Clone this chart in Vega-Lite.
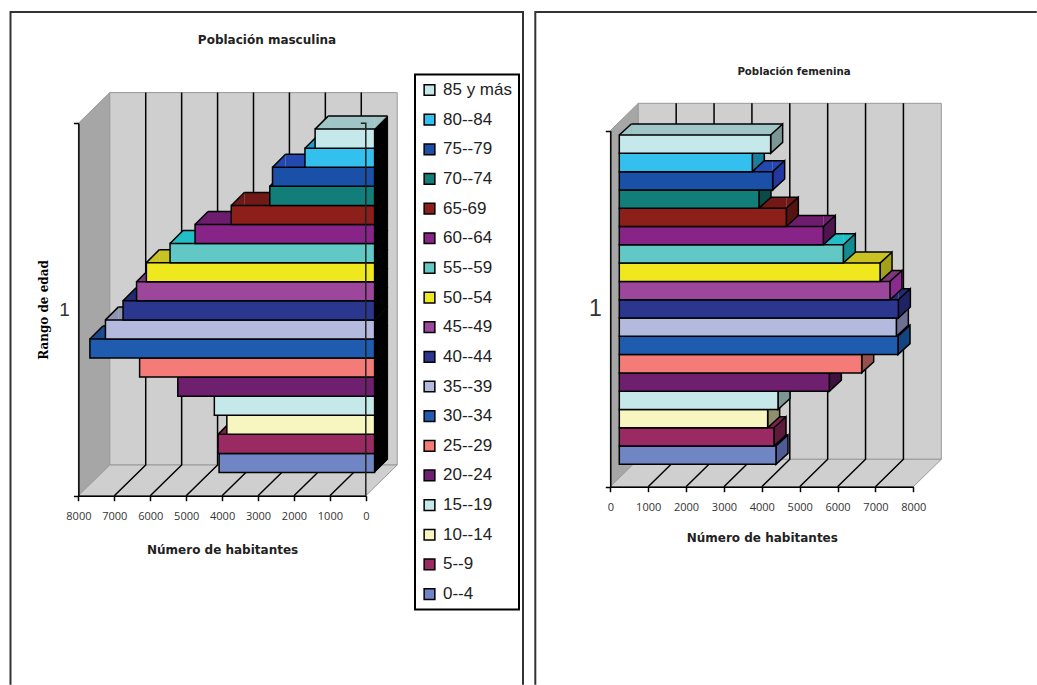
{"$schema":"https://vega.github.io/schema/vega-lite/v6.json","padding":{"left":6,"top":1,"right":0,"bottom":0},"background":"white","spacing":12,"bounds":"flush","config":{"view":{"stroke":null},"legend":{"strokeWidth":2}},
"datasets":{
"hombres":[{"grupo":"0--4","valor":4329},{"grupo":"5--9","valor":4358},{"grupo":"10--14","valor":4113},{"grupo":"15--19","valor":4461},{"grupo":"20--24","valor":5478},{"grupo":"25--29","valor":6541},{"grupo":"30--34","valor":7925},{"grupo":"35--39","valor":7492},{"grupo":"40--44","valor":7002},{"grupo":"45--49","valor":6626},{"grupo":"50--54","valor":6353},{"grupo":"55--59","valor":5694},{"grupo":"60--64","valor":4998},{"grupo":"65-69","valor":3990},{"grupo":"70--74","valor":2918},{"grupo":"75--79","valor":2842},{"grupo":"80--84","valor":1939},{"grupo":"85 y más","valor":1656}],
"mujeres":[{"grupo":"0--4","valor":4137},{"grupo":"5--9","valor":4085},{"grupo":"10--14","valor":3917},{"grupo":"15--19","valor":4190},{"grupo":"20--24","valor":5546},{"grupo":"25--29","valor":6400},{"grupo":"30--34","valor":7359},{"grupo":"35--39","valor":7315},{"grupo":"40--44","valor":7368},{"grupo":"45--49","valor":7148},{"grupo":"50--54","valor":6884},{"grupo":"55--59","valor":5915},{"grupo":"60--64","valor":5387},{"grupo":"65-69","valor":4410},{"grupo":"70--74","valor":3688},{"grupo":"75--79","valor":4049},{"grupo":"80--84","valor":3512},{"grupo":"85 y más","valor":3996}],
"esquina8000":[{"marca":8000,"rango":"1"}],"esquina0":[{"marca":0,"rango":"1"}],
"divisiones":[{"marca":1000,"rango":"1"},{"marca":2000,"rango":"1"},{"marca":3000,"rango":"1"},{"marca":4000,"rango":"1"},{"marca":5000,"rango":"1"},{"marca":6000,"rango":"1"},{"marca":7000,"rango":"1"}]},
"hconcat":[
{"width":512,"height":673,"title":{"text":"Población masculina","font":"DejaVu Sans","fontSize":12,"fontWeight":"bold","color":"#222","anchor":"middle","frame":"group","offset":-44},
"resolve":{"scale":{"x":"independent","y":"independent","fill":"independent","stroke":"independent"},"axis":{"x":"independent","y":"independent"},"legend":{"fill":"independent"}},
"layer":[
{"data":{"name":"esquina8000"},"mark":{"type":"point","filled":true,"opacity":1,"size":4,"fill":"#A6A6A6","stroke":"#999","strokeWidth":1,"shape":"M0 0L31.4 -30.7L31.4 -403.1L0 -372.4Z"},
"encoding":{"x":{"field":"marca","type":"quantitative","scale":{"domain":[8000,0],"range":[67.4,354.8]},"axis":{"orient":"bottom","offset":-189.3,"values":[0,1000,2000,3000,4000,5000,6000,7000,8000],"format":"d","labelFont":"Open Sans","labelFontSize":11,"labelColor":"#333","labelPadding":10,"tickSize":5,"tickWidth":1.5,"tickColor":"black","domainColor":"black","domainWidth":1.5,"grid":false,"labelOverlap":false,"labelFlush":false,"zindex":1,"title":"Número de habitantes","titleFont":"DejaVu Sans","titleFontSize":12,"titleFontWeight":"bold","titleColor":"#222","titlePadding":23}},
"y":{"field":"rango","type":"nominal","bandPosition":1,"scale":{"type":"band","domain":["1"],"range":[111.3,483.7],"padding":0},"axis":{"orient":"left","offset":-67.4,"tickBand":"extent","tickSize":5,"tickWidth":1.5,"tickColor":"black","domainColor":"black","domainWidth":1.5,"labelFont":"Liberation Sans","labelFontSize":19,"labelColor":"#333","labelPadding":4,"labelAngle":0,"grid":false,"zindex":1,"title":"Rango de edad","titleFont":"DejaVu Serif","titleFontSize":12,"titleFontWeight":"bold","titleColor":"black","titlePadding":8}}}},
{"data":{"name":"esquina8000"},"encoding":{"x":{"field":"marca","type":"quantitative","scale":{"domain":[8000,0],"range":[67.4,354.8]},"axis":null},"y":{"field":"rango","type":"nominal","bandPosition":1,"scale":{"type":"band","domain":["1"],"range":[111.3,483.7],"padding":0},"axis":null}},
"layer":[
{"mark":{"type":"point","filled":true,"opacity":1,"size":4,"fill":"#CFCFCF","stroke":"#999","strokeWidth":1,"shape":"M31.4 -30.7L318.8 -30.7L318.8 -403.1L31.4 -403.1Z"}},
{"mark":{"type":"point","filled":true,"opacity":1,"size":4,"fill":"#CFCFCF","stroke":"#999","strokeWidth":1,"shape":"M0 0L31.4 -30.7L318.8 -30.7L287.4 0Z"}},
{"data":{"name":"divisiones"},"mark":{"type":"point","filled":false,"opacity":1,"size":4,"stroke":"black","strokeWidth":1.5,"shape":"M0 0L31.4 -30.7L31.4 -403.1"}},
{"mark":{"type":"point","filled":false,"opacity":1,"size":4,"stroke":"#333","strokeWidth":2,"shape":"M-67.9 189L-67.9 -483.7L444.6 -483.7L444.6 189"}}
]},
{"data":{"name":"hombres"},"encoding":{"x":{"field":"valor","type":"quantitative","scale":{"domain":[8000,0],"range":[76.2,363.6]},"axis":null},"y":{"field":"grupo","type":"nominal","bandPosition":0,"sort":null,"scale":{"type":"band","domain":["85 y más","80--84","75--79","70--74","65-69","60--64","55--59","50--54","45--49","40--44","35--39","30--34","25--29","20--24","15--19","10--14","5--9","0--4"],"range":[102.6,475],"paddingInner":0,"paddingOuter":0.76},"axis":null}},
"resolve":{"scale":{"fill":"independent","stroke":"independent"},"legend":{"fill":"independent"}},
"layer":[
{"mark":{"type":"rule","strokeWidth":13,"xOffset":13,"x2Offset":0,"yOffset":-6.5},"encoding":{"x2":{"datum":0},"stroke":{"field":"grupo","type":"nominal","legend":null,"scale":{"domain":["85 y más","80--84","75--79","70--74","65-69","60--64","55--59","50--54","45--49","40--44","35--39","30--34","25--29","20--24","15--19","10--14","5--9","0--4"],"range":["#9FC5C6","#1E9ECB","#2348B0","#0E6562","#701916","#6D1D6D","#20BEC6","#C8C222","#7D387D","#222B72","#8F95B1","#194A8D","#C36260","#581958","#9FC5C6","#C6C49A","#7B224E","#5A6B9E"]}}}},
{"mark":{"type":"point","filled":true,"opacity":1,"size":4,"strokeWidth":0,"shape":"M0 0L13 -13L13 0Z"},"encoding":{"fill":{"field":"grupo","type":"nominal","legend":null,"scale":{"domain":["85 y más","80--84","75--79","70--74","65-69","60--64","55--59","50--54","45--49","40--44","35--39","30--34","25--29","20--24","15--19","10--14","5--9","0--4"],"range":["#9FC5C6","#1E9ECB","#2348B0","#0E6562","#701916","#6D1D6D","#20BEC6","#C8C222","#7D387D","#222B72","#8F95B1","#194A8D","#C36260","#581958","#9FC5C6","#C6C49A","#7B224E","#5A6B9E"]}}}},
{"mark":{"type":"point","filled":true,"opacity":1,"size":4,"strokeWidth":0,"shape":"M0 0L13 -13L0 -13Z"},"encoding":{"x":{"datum":0,"axis":null},"fill":{"field":"grupo","type":"nominal","legend":null,"scale":{"domain":["85 y más","80--84","75--79","70--74","65-69","60--64","55--59","50--54","45--49","40--44","35--39","30--34","25--29","20--24","15--19","10--14","5--9","0--4"],"range":["#9FC5C6","#1E9ECB","#2348B0","#0E6562","#701916","#6D1D6D","#20BEC6","#C8C222","#7D387D","#222B72","#8F95B1","#194A8D","#C36260","#581958","#9FC5C6","#C6C49A","#7B224E","#5A6B9E"]}}}},
{"mark":{"type":"point","filled":false,"opacity":1,"size":4,"stroke":"black","strokeWidth":1.5,"shape":"M0 0L13 -13"}},
{"mark":{"type":"rule","stroke":"black","strokeWidth":1.5,"xOffset":13,"x2Offset":13,"yOffset":-13},"encoding":{"x2":{"datum":0}}},
{"mark":{"type":"point","filled":true,"opacity":1,"size":4,"fill":"black","stroke":"black","strokeWidth":1,"shape":"M0 0L13 -13L13 6.07L0 19.07Z"},"encoding":{"x":{"datum":0,"axis":null}}},
{"mark":{"type":"bar","stroke":"black","strokeWidth":1.5},"encoding":{"x2":{"datum":0},"y":{"field":"grupo","type":"nominal","sort":null,"scale":{"type":"band","domain":["85 y más","80--84","75--79","70--74","65-69","60--64","55--59","50--54","45--49","40--44","35--39","30--34","25--29","20--24","15--19","10--14","5--9","0--4"],"range":[102.6,475],"paddingInner":0,"paddingOuter":0.76},"axis":null},"fill":{"field":"grupo","type":"nominal","scale":{"domain":["85 y más","80--84","75--79","70--74","65-69","60--64","55--59","50--54","45--49","40--44","35--39","30--34","25--29","20--24","15--19","10--14","5--9","0--4"],"range":["#C5E8EA","#33C0EE","#1A50A8","#117E7A","#8C1F1A","#882488","#62C8C6","#EFE81F","#9C469C","#2B368F","#B3BADD","#1F5CB0","#F47B78","#6E1F6E","#C5E8EA","#F7F5C0","#9A2A62","#6F85C4"]},"legend":{"orient":"none","legendX":404,"legendY":62.5,"title":null,"strokeColor":"black","fillColor":"white","padding":7,"symbolType":"square","symbolSize":115,"symbolStrokeColor":"black","symbolStrokeWidth":1.5,"symbolOffset":-1,"labelOffset":5,"labelFont":"Liberation Sans","labelFontSize":17,"labelColor":"#222","labelLimit":100,"rowPadding":11.65}}}}
]},
{"data":{"name":"esquina0"},"mark":{"type":"point","filled":false,"opacity":1,"size":4,"stroke":"#222","strokeWidth":1.5,"shape":"M0 0L0 -372.4L-5 -372.4"},"encoding":{"x":{"field":"marca","type":"quantitative","scale":{"domain":[8000,0],"range":[67.4,354.8]},"axis":null},"y":{"field":"rango","type":"nominal","bandPosition":1,"scale":{"type":"band","domain":["1"],"range":[111.3,483.7],"padding":0},"axis":null}}}
]},
{"width":502,"height":673,"title":{"text":"Población femenina","font":"DejaVu Sans","fontSize":10.2,"fontWeight":"bold","color":"#222","anchor":"middle","frame":"group","offset":-76,"dx":8},
"resolve":{"scale":{"x":"independent","y":"independent","fill":"independent","stroke":"independent"},"axis":{"x":"independent","y":"independent"}},
"layer":[
{"data":{"name":"esquina0"},"mark":{"type":"point","filled":true,"opacity":1,"size":4,"fill":"#A6A6A6","stroke":"#999","strokeWidth":1,"shape":"M0 0L28 -27.4L28 -383.4L0 -356Z"},
"encoding":{"x":{"field":"marca","type":"quantitative","scale":{"domain":[0,8000],"range":[75.3,378.3]},"axis":{"orient":"bottom","offset":-198.3,"values":[0,1000,2000,3000,4000,5000,6000,7000,8000],"format":"d","labelFont":"Open Sans","labelFontSize":11,"labelColor":"#333","labelPadding":10,"tickSize":5,"tickWidth":1.5,"tickColor":"black","domainColor":"black","domainWidth":1.5,"grid":false,"labelOverlap":false,"labelFlush":false,"zindex":1,"title":"Número de habitantes","titleFont":"DejaVu Sans","titleFontSize":12,"titleFontWeight":"bold","titleColor":"#222","titlePadding":20}},
"y":{"field":"rango","type":"nominal","bandPosition":1,"scale":{"type":"band","domain":["1"],"range":[118.7,474.7],"padding":0},"axis":{"orient":"left","offset":-75.3,"tickBand":"extent","tickSize":5,"tickWidth":1.5,"tickColor":"black","domainColor":"black","domainWidth":1.5,"labelFont":"Liberation Sans","labelFontSize":23,"labelColor":"#333","labelPadding":4,"labelAngle":0,"grid":false,"zindex":1,"title":null}}}},
{"data":{"name":"esquina0"},"encoding":{"x":{"field":"marca","type":"quantitative","scale":{"domain":[0,8000],"range":[75.3,378.3]},"axis":null},"y":{"field":"rango","type":"nominal","bandPosition":1,"scale":{"type":"band","domain":["1"],"range":[118.7,474.7],"padding":0},"axis":null}},
"layer":[
{"mark":{"type":"point","filled":true,"opacity":1,"size":4,"fill":"#CFCFCF","stroke":"#999","strokeWidth":1,"shape":"M28 -27.4L331 -27.4L331 -383.4L28 -383.4Z"}},
{"mark":{"type":"point","filled":true,"opacity":1,"size":4,"fill":"#CFCFCF","stroke":"#999","strokeWidth":1,"shape":"M0 0L28 -27.4L331 -27.4L303 0Z"}},
{"data":{"name":"divisiones"},"mark":{"type":"point","filled":false,"opacity":1,"size":4,"stroke":"black","strokeWidth":1.5,"shape":"M0 0L28 -27.4L28 -383.4"}},
{"mark":{"type":"point","filled":false,"opacity":1,"size":4,"stroke":"#333","strokeWidth":2,"shape":"M-75 198L-75 -474.7L426.5 -474.7"}}
]},
{"data":{"name":"mujeres"},"encoding":{"x":{"field":"valor","type":"quantitative","scale":{"domain":[0,8000],"range":[84.3,387.3]},"axis":null},"y":{"field":"grupo","type":"nominal","bandPosition":0,"sort":null,"scale":{"type":"band","domain":["85 y más","80--84","75--79","70--74","65-69","60--64","55--59","50--54","45--49","40--44","35--39","30--34","25--29","20--24","15--19","10--14","5--9","0--4"],"range":[109.7,465.7],"paddingInner":0,"paddingOuter":0.73},"axis":null}},
"resolve":{"scale":{"fill":"independent","stroke":"independent"}},
"layer":[
{"mark":{"type":"rule","strokeWidth":11,"xOffset":0,"x2Offset":12,"yOffset":-5.5},"encoding":{"x2":{"datum":0},"stroke":{"field":"grupo","type":"nominal","legend":null,"scale":{"domain":["85 y más","80--84","75--79","70--74","65-69","60--64","55--59","50--54","45--49","40--44","35--39","30--34","25--29","20--24","15--19","10--14","5--9","0--4"],"range":["#9FC5C6","#1E9ECB","#2348B0","#0E6562","#701916","#6D1D6D","#20BEC6","#C8C222","#7D387D","#222B72","#8F95B1","#194A8D","#C36260","#581958","#9FC5C6","#C6C49A","#7B224E","#5A6B9E"]}}}},
{"mark":{"type":"point","filled":true,"opacity":1,"size":4,"strokeWidth":0,"shape":"M0 0L12 -11L0 -11Z"},"encoding":{"fill":{"field":"grupo","type":"nominal","legend":null,"scale":{"domain":["85 y más","80--84","75--79","70--74","65-69","60--64","55--59","50--54","45--49","40--44","35--39","30--34","25--29","20--24","15--19","10--14","5--9","0--4"],"range":["#9FC5C6","#1E9ECB","#2348B0","#0E6562","#701916","#6D1D6D","#20BEC6","#C8C222","#7D387D","#222B72","#8F95B1","#194A8D","#C36260","#581958","#9FC5C6","#C6C49A","#7B224E","#5A6B9E"]}}}},
{"mark":{"type":"point","filled":true,"opacity":1,"size":4,"strokeWidth":0,"shape":"M0 0L12 -11L12 0Z"},"encoding":{"x":{"datum":0,"axis":null},"fill":{"field":"grupo","type":"nominal","legend":null,"scale":{"domain":["85 y más","80--84","75--79","70--74","65-69","60--64","55--59","50--54","45--49","40--44","35--39","30--34","25--29","20--24","15--19","10--14","5--9","0--4"],"range":["#9FC5C6","#1E9ECB","#2348B0","#0E6562","#701916","#6D1D6D","#20BEC6","#C8C222","#7D387D","#222B72","#8F95B1","#194A8D","#C36260","#581958","#9FC5C6","#C6C49A","#7B224E","#5A6B9E"]}}}},
{"mark":{"type":"point","filled":false,"opacity":1,"size":4,"stroke":"black","strokeWidth":1.5,"shape":"M0 0L12 -11"},"encoding":{"x":{"datum":0,"axis":null}}},
{"mark":{"type":"rule","stroke":"black","strokeWidth":1.5,"xOffset":12,"x2Offset":12,"yOffset":-11},"encoding":{"x2":{"datum":0}}},
{"mark":{"type":"point","filled":true,"opacity":1,"size":4,"stroke":"black","strokeWidth":1.5,"shape":"M0 0L12 -11L12 7.3L0 18.3Z"},"encoding":{"fill":{"field":"grupo","type":"nominal","legend":null,"scale":{"domain":["85 y más","80--84","75--79","70--74","65-69","60--64","55--59","50--54","45--49","40--44","35--39","30--34","25--29","20--24","15--19","10--14","5--9","0--4"],"range":["#7A9796","#1A7E9E","#2238A0","#0A4A47","#551311","#4E154E","#138C90","#A3A01A","#8C2A92","#1F2364","#6D7092","#134480","#96504E","#3F123F","#7A9796","#8F8E6E","#5E1A3C","#4F5A96"]}}}},
{"mark":{"type":"bar","stroke":"black","strokeWidth":1.5},"encoding":{"x2":{"datum":0},"y":{"field":"grupo","type":"nominal","sort":null,"scale":{"type":"band","domain":["85 y más","80--84","75--79","70--74","65-69","60--64","55--59","50--54","45--49","40--44","35--39","30--34","25--29","20--24","15--19","10--14","5--9","0--4"],"range":[109.7,465.7],"paddingInner":0,"paddingOuter":0.73},"axis":null},"fill":{"field":"grupo","type":"nominal","legend":null,"scale":{"domain":["85 y más","80--84","75--79","70--74","65-69","60--64","55--59","50--54","45--49","40--44","35--39","30--34","25--29","20--24","15--19","10--14","5--9","0--4"],"range":["#C5E8EA","#33C0EE","#1A50A8","#117E7A","#8C1F1A","#882488","#62C8C6","#EFE81F","#9C469C","#2B368F","#B3BADD","#1F5CB0","#F47B78","#6E1F6E","#C5E8EA","#F7F5C0","#9A2A62","#6F85C4"]}}}}
]}
]}
]}
